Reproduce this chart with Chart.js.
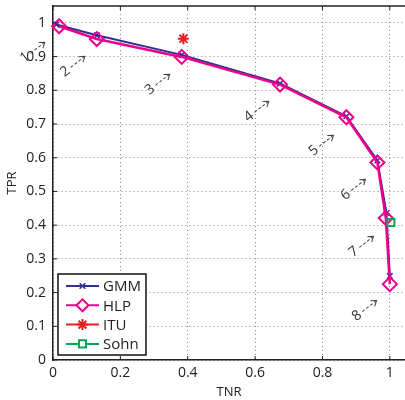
<!DOCTYPE html>
<html>
<head>
<meta charset="utf-8">
<script src="https://cdn.jsdelivr.net/npm/chart.js@4.4.1/dist/chart.umd.min.js"></script>
<style>
  html, body { margin: 0; padding: 0; background: #fff; }
  #wrap { width: 405px; height: 400px; }
</style>
</head>
<body>
<div id="wrap"><canvas id="roc"></canvas></div>
<script>
// ROC points
const tnrTicks = [0, 0.2, 0.4, 0.6, 0.8, 1];
const tprTicks = [0, 0.1, 0.2, 0.3, 0.4, 0.5, 0.6, 0.7, 0.8, 0.9, 1];

const gmmTNR = [0.01, 0.13, 0.382, 0.674, 0.871, 0.963, 0.99, 1.0];
const gmmTPR = [0.995, 0.963, 0.905, 0.82, 0.723, 0.592, 0.436, 0.249];

const hlpTNR = [0.018, 0.13, 0.382, 0.674, 0.871, 0.963, 0.988, 1.0];
const hlpTPR = [0.99, 0.952, 0.899, 0.817, 0.72, 0.586, 0.421, 0.225];

const ituTNR = [0.387];
const ituTPR = [0.953];

const sohnTNR = [1.003];
const sohnTPR = [0.408];

// numbered operating point labels ("n -->")
const pointLabels = ["1", "2", "3", "4", "5", "6", "7", "8"];
const labelTNR = [-0.083, 0.036, 0.288, 0.582, 0.774, 0.869, 0.893, 0.902];
const labelTPR = [0.897, 0.855, 0.802, 0.722, 0.621, 0.490, 0.321, 0.131];

const toXY = (xs, ys) => xs.map((x, i) => ({ x: x, y: ys[i] }));
const fmt = (v) => String(parseFloat(v.toFixed(2)));

const FONT = "'Open Sans', 'Liberation Sans', sans-serif";

// labels with dashed arrows + top border + inward ticks + legend box
const decorations = {
  id: "decorations",
  afterDatasetsDraw(chart) {
    const ctx = chart.ctx;
    const xs = chart.scales.x, ys = chart.scales.y;
    const a = chart.chartArea;
    ctx.save();
    ctx.strokeStyle = "#222";
    ctx.lineWidth = 1.5;
    ctx.beginPath();
    ctx.moveTo(a.left, a.top);
    ctx.lineTo(a.right + 2, a.top);
    ctx.stroke();
    ctx.lineWidth = 1;
    tnrTicks.forEach((v) => {
      const px = xs.getPixelForValue(v);
      ctx.beginPath();
      ctx.moveTo(px, a.bottom); ctx.lineTo(px, a.bottom - 4);
      ctx.moveTo(px, a.top); ctx.lineTo(px, a.top + 4);
      ctx.stroke();
    });
    tprTicks.forEach((v) => {
      const py = ys.getPixelForValue(v);
      ctx.beginPath();
      ctx.moveTo(a.left, py); ctx.lineTo(a.left + 4, py);
      ctx.stroke();
    });
    ctx.fillStyle = "#333";
    ctx.strokeStyle = "#444";
    ctx.font = "14px " + FONT;
    ctx.textAlign = "center";
    ctx.textBaseline = "middle";
    pointLabels.forEach((t, i) => {
      const px = xs.getPixelForValue(labelTNR[i]);
      const py = ys.getPixelForValue(labelTPR[i]);
      ctx.save();
      ctx.translate(px, py);
      ctx.rotate(-38 * Math.PI / 180);
      ctx.fillText(t, 0, 0);
      ctx.lineWidth = 1;
      ctx.setLineDash([3, 2]);
      ctx.beginPath();
      ctx.moveTo(7, 0); ctx.lineTo(24, 0);
      ctx.stroke();
      ctx.setLineDash([]);
      ctx.beginPath();
      ctx.moveTo(20, -3.5); ctx.lineTo(25, 0); ctx.lineTo(20, 3.5);
      ctx.stroke();
      ctx.restore();
    });
    ctx.restore();
  },
  afterDraw(chart) {
    const ctx = chart.ctx;
    const box = { x: 58, y: 274, w: 88, h: 81 };
    ctx.save();
    ctx.fillStyle = "#fff";
    ctx.fillRect(box.x, box.y, box.w, box.h);
    ctx.strokeStyle = "#111";
    ctx.lineWidth = 1.5;
    ctx.strokeRect(box.x, box.y, box.w, box.h);
    chart.data.datasets.forEach((ds, k) => {
      const cy = box.y + 12 + k * 19.3;
      ctx.strokeStyle = ds.borderColor;
      ctx.lineWidth = 2;
      ctx.beginPath();
      ctx.moveTo(box.x + 8, cy); ctx.lineTo(box.x + 41, cy);
      ctx.stroke();
      ctx.strokeStyle = ds.pointBorderColor;
      ctx.fillStyle = "#fff";
      ctx.lineWidth = ds.pointBorderWidth;
      const r = ds.pointStyle === "rectRot" ? 6 : ds.pointRadius;
      Chart.helpers.drawPoint(ctx, { pointStyle: ds.pointStyle, radius: r, rotation: 0, borderWidth: ds.pointBorderWidth }, box.x + 24.5, cy);
      ctx.fillStyle = "#222";
      ctx.font = "15px " + FONT;
      ctx.textAlign = "left";
      ctx.textBaseline = "middle";
      ctx.fillText(ds.label, box.x + 45, cy + 1);
    });
    ctx.restore();
  }
};

new Chart(document.getElementById("roc"), {
  type: "scatter",
  data: {
    datasets: [
      {
        label: "GMM",
        data: toXY(gmmTNR, gmmTPR),
        showLine: true,
        borderColor: "#2e3192",
        borderWidth: 2,
        pointStyle: "crossRot",
        pointRadius: 4,
        pointBorderColor: "#2e3192",
        pointBorderWidth: 1.5,
        pointBackgroundColor: "rgba(0,0,0,0)",
        order: 2
      },
      {
        label: "HLP",
        data: toXY(hlpTNR, hlpTPR),
        showLine: true,
        borderColor: "#ec008c",
        borderWidth: 2.5,
        pointStyle: "rectRot",
        pointRadius: 7,
        pointBorderColor: "#ec008c",
        pointBorderWidth: 2,
        pointBackgroundColor: "rgba(0,0,0,0)",
        order: 1
      },
      {
        label: "ITU",
        data: toXY(ituTNR, ituTPR),
        showLine: true,
        borderColor: "#ed1c24",
        borderWidth: 2,
        pointStyle: "star",
        pointRadius: 5.5,
        pointBorderColor: "#ed1c24",
        pointBorderWidth: 2,
        pointBackgroundColor: "rgba(0,0,0,0)",
        order: 0
      },
      {
        label: "Sohn",
        data: toXY(sohnTNR, sohnTPR),
        showLine: true,
        borderColor: "#00a651",
        borderWidth: 2,
        pointStyle: "rect",
        pointRadius: 5,
        pointBorderColor: "#00a651",
        pointBorderWidth: 2,
        pointBackgroundColor: "rgba(0,0,0,0)",
        order: 0
      }
    ]
  },
  options: {
    responsive: true,
    maintainAspectRatio: false,
    animation: false,
    clip: false,
    layout: { autoPadding: false, padding: { top: 6, right: 0, left: 0, bottom: 0 } },
    plugins: {
      legend: { display: false },
      tooltip: { enabled: false }
    },
    scales: {
      x: {
        type: "linear",
        min: 0,
        max: 1.045,
        afterBuildTicks: (s) => { s.ticks = tnrTicks.map((v) => ({ value: v })); },
        afterFit: (s) => { s.height = 40; s.paddingLeft = 0; s.paddingRight = 0; },
        border: { color: "#222", width: 1.5, dash: [1, 3] },
        grid: { color: "#888", lineWidth: 1, drawTicks: false },
        ticks: { color: "#222", padding: 5, font: { family: FONT, size: 14 }, maxRotation: 0, callback: (v) => fmt(v) },
        title: { display: true, text: "TNR", color: "#222", padding: { top: 0, bottom: 0 }, font: { family: FONT, size: 13 } }
      },
      y: {
        type: "linear",
        min: 0,
        max: 1.05,
        afterBuildTicks: (s) => { s.ticks = tprTicks.map((v) => ({ value: v })); },
        afterFit: (s) => { s.width = 53; s.paddingTop = 0; s.paddingBottom = 0; },
        border: { color: "#222", width: 1.5, dash: [1, 3] },
        grid: { color: "#888", lineWidth: 1, drawTicks: false },
        ticks: { color: "#222", padding: 7, font: { family: FONT, size: 14 }, callback: (v) => fmt(v) },
        title: { display: true, text: "TPR", color: "#222", padding: { top: 4, bottom: 0 }, font: { family: FONT, size: 13 } }
      }
    }
  },
  plugins: [decorations]
});
</script>
</body>
</html>
